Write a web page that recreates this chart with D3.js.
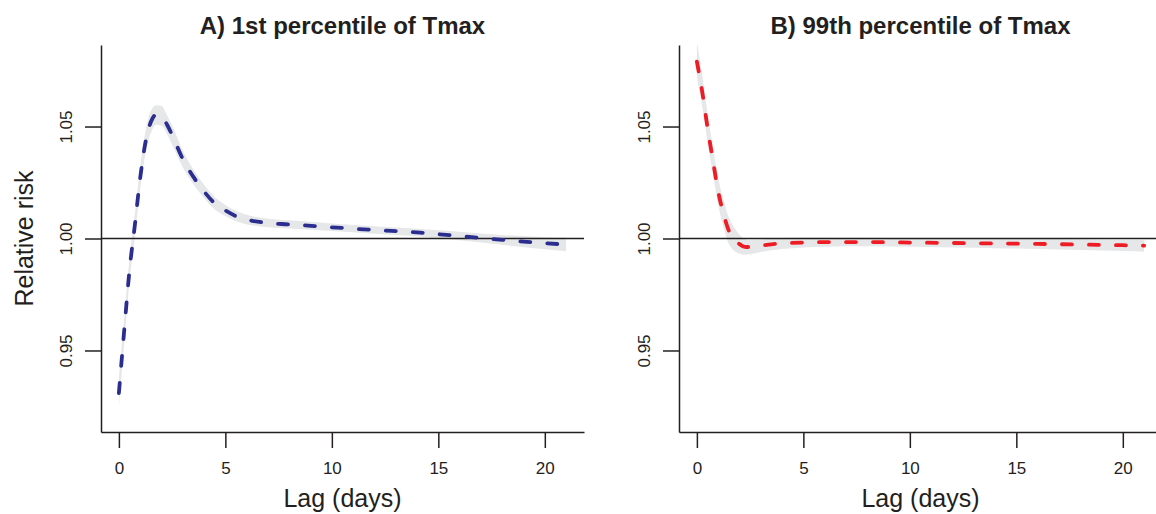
<!DOCTYPE html>
<html>
<head>
<meta charset="utf-8">
<script src="https://cdn.jsdelivr.net/npm/d3@7"></script>
<style>
  body { margin: 0; background: #fff; }
  svg { display: block; font-family: "Liberation Sans", Arial, sans-serif; }
  .axis path, .axis line { stroke: #231f20; stroke-width: 1.5px; }
</style>
</head>
<body>
<script>
// lag-response curves
var lagA = [0, 0.25, 0.5, 0.75, 1, 1.25, 1.5, 1.75, 2, 2.25, 2.5, 3, 3.5, 4, 4.5, 5, 5.5, 6, 7, 8, 10, 12, 14, 16, 18, 20, 21];
var fitA = [0.931, 0.959, 0.986, 1.006, 1.027, 1.043, 1.052, 1.0553, 1.0548, 1.051, 1.0462, 1.0355, 1.0275, 1.021, 1.0157, 1.0125, 1.01, 1.0085, 1.0069, 1.0063, 1.005, 1.0038, 1.0027, 1.0011, 0.9994, 0.9979, 0.9973];
var loA  = [0.925, 0.953, 0.981, 1.001, 1.022, 1.038, 1.047, 1.0508, 1.0505, 1.0468, 1.042, 1.0318, 1.0242, 1.018, 1.013, 1.01, 1.0077, 1.0064, 1.005, 1.0045, 1.0033, 1.0021, 1.001, 0.9992, 0.9972, 0.9952, 0.9943];
var hiA  = [0.938, 0.965, 0.991, 1.011, 1.032, 1.048, 1.057, 1.0595, 1.0592, 1.0553, 1.0505, 1.0393, 1.0308, 1.024, 1.0185, 1.015, 1.0123, 1.0106, 1.0088, 1.0081, 1.0067, 1.0055, 1.0044, 1.003, 1.0016, 1.0006, 1.0003];

var lagB = [0, 0.25, 0.5, 0.75, 1, 1.25, 1.5, 1.75, 2, 2.25, 2.5, 3, 3.5, 4, 5, 6, 8, 10, 12, 14, 16, 18, 20, 21];
var fitB = [1.079, 1.0655, 1.0495, 1.035, 1.021, 1.011, 1.0035, 0.9998, 0.9975, 0.9963, 0.9962, 0.9968, 0.9974, 0.9978, 0.9982, 0.9984, 0.9984, 0.9982, 0.998, 0.9978, 0.9976, 0.9973, 0.997, 0.9968];
var loB  = [1.072, 1.059, 1.043, 1.029, 1.015, 1.005, 0.9975, 0.9945, 0.9932, 0.9928, 0.993, 0.994, 0.9947, 0.9953, 0.996, 0.9963, 0.9965, 0.9963, 0.996, 0.9957, 0.9953, 0.9949, 0.9944, 0.9941];
var hiB  = [1.088, 1.073, 1.056, 1.041, 1.027, 1.017, 1.0095, 1.005, 1.0018, 0.9998, 0.9994, 0.9996, 1.0, 1.0002, 1.0004, 1.0005, 1.0003, 1.0001, 1.0, 0.9999, 0.9999, 0.9997, 0.9993, 0.9993];

var xTicks = [0, 5, 10, 15, 20];
var yTicks = [0.95, 1.00, 1.05];

var W = 1156, H = 514;
var plotTop = 45, plotBottom = 432, plotW = 483;
var ink = "#231f20";

var svg = d3.select("body").append("svg")
    .attr("width", W).attr("height", H);

// draw one panel
function panel(id, left, title, lag, fit, lo, hi, color, ylab) {
    // R style: 4% padding on both scales
    var x = d3.scaleLinear().domain([-0.84, 21.84]).range([left, left + plotW]);
    var y = d3.scaleLinear().domain([0.9136, 1.0864]).range([plotBottom, plotTop]);

    svg.append("clipPath").attr("id", "clip" + id)
        .append("rect").attr("x", left).attr("y", plotTop)
        .attr("width", plotW).attr("height", plotBottom - plotTop);

    var rows = lag.map(function(d, i) { return {lag: d, fit: fit[i], lo: lo[i], hi: hi[i]}; });
    var g = svg.append("g").attr("clip-path", "url(#clip" + id + ")");

    var band = d3.area()
        .x(function(d) { return x(d.lag); })
        .y0(function(d) { return y(d.lo); })
        .y1(function(d) { return y(d.hi); })
        .curve(d3.curveMonotoneX);
    g.append("path").datum(rows).attr("d", band).attr("fill", "#e6e7e8");

    // reference line at RR = 1
    g.append("line")
        .attr("x1", left).attr("x2", left + plotW)
        .attr("y1", y(1)).attr("y2", y(1))
        .attr("stroke", ink).attr("stroke-width", 1.6);

    var line = d3.line()
        .x(function(d) { return x(d.lag); })
        .y(function(d) { return y(d.fit); })
        .curve(d3.curveMonotoneX);
    g.append("path").datum(rows).attr("d", line)
        .attr("fill", "none").attr("stroke", color)
        .attr("stroke-width", 3.8).attr("stroke-linecap", "round")
        .attr("stroke-dasharray", "10,17");

    // axes (bty = "l")
    var xa = svg.append("g").attr("class", "axis")
        .attr("transform", "translate(0," + plotBottom + ")")
        .call(d3.axisBottom(x).tickValues(xTicks).tickSize(16).tickSizeOuter(0));
    xa.attr("font-size", 17).attr("font-family", null);
    xa.selectAll("text").attr("dy", 0).attr("y", 42).attr("fill", ink);

    var ya = svg.append("g").attr("class", "axis")
        .attr("transform", "translate(" + left + ",0)")
        .call(d3.axisLeft(y).tickValues(yTicks).tickSize(16).tickSizeOuter(0)
            .tickFormat(d3.format(".2f")));
    ya.attr("font-size", 17).attr("font-family", null);
    ya.selectAll("text")
        .attr("transform", "rotate(-90)")
        .attr("x", 0).attr("y", -29).attr("dy", 0)
        .attr("text-anchor", "middle").attr("fill", ink);

    svg.append("text")
        .attr("x", left + plotW / 2).attr("y", 34)
        .attr("text-anchor", "middle")
        .attr("font-size", 24).attr("font-weight", "bold").attr("fill", ink)
        .text(title);

    svg.append("text")
        .attr("x", left + plotW / 2).attr("y", 507)
        .attr("text-anchor", "middle")
        .attr("font-size", 25).attr("fill", ink)
        .text("Lag (days)");

    if (ylab) {
        svg.append("text")
            .attr("transform", "translate(33," + y(1) + ") rotate(-90)")
            .attr("text-anchor", "middle")
            .attr("font-size", 25).attr("fill", ink)
            .text(ylab);
    }
}

panel("A", 101, "A) 1st percentile of Tmax", lagA, fitA, loA, hiA, "#2b2e8f", "Relative risk");
panel("B", 679, "B) 99th percentile of Tmax", lagB, fitB, loB, hiB, "#ee1c25", null);
</script>
</body>
</html>
